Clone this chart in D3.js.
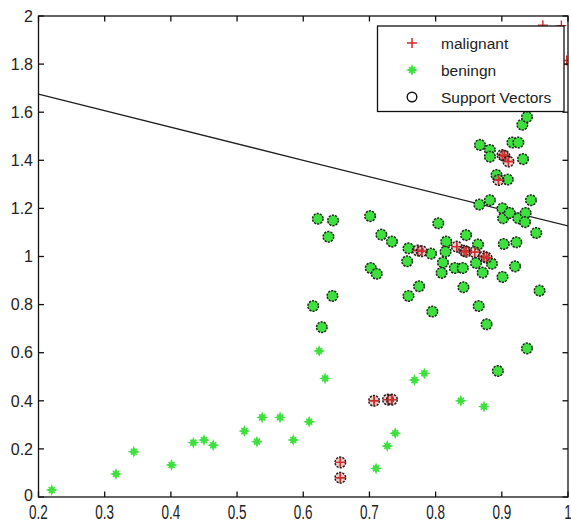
<!DOCTYPE html>
<html><head><meta charset="utf-8">
<script src="https://cdn.jsdelivr.net/npm/d3@7"></script>
<style>body{margin:0;background:#fff;}svg{display:block;}</style>
</head><body>
<svg id="chart" width="571" height="524"></svg>
<script>
// ---------- data ----------
const xTicks = [0.2,0.3,0.4,0.5,0.6,0.7,0.8,0.9,1.0];
const xTickLabels = ["0.2","0.3","0.4","0.5","0.6","0.7","0.8","0.9","1"];
const yTicks = [0,0.2,0.4,0.6,0.8,1.0,1.2,1.4,1.6,1.8,2.0];
const yTickLabels = ["0","0.2","0.4","0.6","0.8","1","1.2","1.4","1.6","1.8","2"];

// benign points (plain stars first, then support vectors)
const benignX = [0.220,0.317,0.344,0.401,0.434,0.450,0.464,0.511,0.530,0.538,0.565,0.585,0.609,0.624,0.633,0.710,0.727,0.739,0.768,0.783,0.838,0.873,
  0.622,0.645,0.638,0.615,0.644,0.628,0.701,0.718,0.734,0.759,0.757,0.793,0.804,0.816,0.815,0.811,0.809,0.702,0.711,
  0.759,0.775,0.795,0.829,0.841,0.842,0.846,0.864,0.861,0.885,0.871,0.865,0.877,
  0.866,0.882,0.901,0.902,0.912,0.925,0.936,0.935,0.944,0.952,0.922,0.903,0.920,0.901,0.957,
  0.892,0.909,0.867,0.882,0.882,0.932,0.916,0.925,0.931,0.938,0.894,0.938];
const benignY = [0.029,0.096,0.188,0.133,0.226,0.237,0.215,0.274,0.230,0.331,0.331,0.237,0.313,0.607,0.493,0.119,0.212,0.265,0.486,0.514,0.400,0.376,
  1.157,1.150,1.082,0.794,0.836,0.706,1.168,1.091,1.062,1.034,0.980,1.012,1.138,1.062,1.020,0.975,0.932,0.952,0.928,
  0.836,0.876,0.771,0.952,0.952,0.872,1.089,1.050,0.973,0.970,0.933,0.794,0.718,
  1.216,1.234,1.200,1.159,1.181,1.159,1.181,1.143,1.234,1.098,1.059,1.052,0.959,0.915,0.858,
  1.339,1.320,1.464,1.443,1.415,1.405,1.474,1.474,1.548,1.580,0.524,0.618];
const benignSV = benignX.map((d,i)=> i>=22 ? 1 : 0);

// malignant points
const malignantX = [0.962,0.990,0.998,0.993,
  0.656,0.656,0.707,0.728,0.734,0.773,0.779,0.832,0.843,0.846,0.859,0.873,0.877,0.901,0.904,0.910,0.895];
const malignantY = [1.962,1.960,1.815,1.800,
  0.144,0.080,0.400,0.405,0.405,1.025,1.022,1.041,1.024,1.020,1.018,1.000,0.995,1.422,1.418,1.395,1.318];
const malignantSV = malignantX.map((d,i)=> i>=4 ? 1 : 0);

// decision boundary
const lineX = [0.2, 0.6, 1.0];
const lineY = [1.675, 1.400, 1.127];

const legendLabels = ["malignant","beningn","Support Vectors"];

// ---------- layout ----------
const svg = d3.select("#chart");
const L = 38.5, R = 568, T = 16, B = 497;
const x = d3.scaleLinear().domain([0.2,1.0]).range([L,R]);
const y = d3.scaleLinear().domain([0,2]).range([B,T]);
const GREEN = "#3ee03e", RED = "#d42a2a";

svg.append("defs").append("clipPath").attr("id","clip")
  .append("rect").attr("x",L).attr("y",T).attr("width",R-L).attr("height",B-T);

const plot = svg.append("g").attr("clip-path","url(#clip)");

// decision line
plot.append("path")
  .datum(lineX.map((d,i)=>[d,lineY[i]]))
  .attr("fill","none").attr("stroke","#222").attr("stroke-width",1.3)
  .attr("d", d3.line().x(d=>x(d[0])).y(d=>y(d[1])));

function starPath(s){
  const a=s, b=s*0.28;
  return `M0,${-a}L${b},${-b}L${a},0L${b},${b}L0,${a}L${-b},${b}L${-a},0L${-b},${-b}Z`;
}
function plusPath(s){ return `M${-s},0H${s}M0,${-s}V${s}`; }

const benign = benignX.map((d,i)=>({x:d,y:benignY[i],sv:benignSV[i]}));
const malignant = malignantX.map((d,i)=>({x:d,y:malignantY[i],sv:malignantSV[i]}));

// benign stars
plot.selectAll(".bstar").data(benign.filter(d=>!d.sv)).enter().append("g")
  .attr("transform",d=>`translate(${x(d.x)},${y(d.y)})`)
  .each(function(){
    const g=d3.select(this);
    g.append("path").attr("d",starPath(6)).attr("fill",GREEN);
    g.append("path").attr("d","M-3,-3L3,3M3,-3L-3,3").attr("stroke",GREEN).attr("stroke-width",1.6);
  });

// malignant pluses
plot.selectAll(".mplus").data(malignant).enter().append("path")
  .attr("transform",d=>`translate(${x(d.x)},${y(d.y)})`)
  .attr("d",plusPath(5)).attr("stroke",RED).attr("stroke-width",1.4).attr("fill","none");

// benign support vectors
plot.selectAll(".bsv").data(benign.filter(d=>d.sv)).enter().append("circle")
  .attr("cx",d=>x(d.x)).attr("cy",d=>y(d.y)).attr("r",5.3)
  .attr("fill",GREEN).attr("stroke","#1c2a1c").attr("stroke-width",1.5)
  .attr("stroke-dasharray","2.2,1.1");

// malignant support vectors
const msv = plot.selectAll(".msv").data(malignant.filter(d=>d.sv)).enter().append("g")
  .attr("transform",d=>`translate(${x(d.x)},${y(d.y)})`);
msv.append("circle").attr("r",5.3).attr("fill","rgba(200,90,90,0.3)")
  .attr("stroke","#2a1a1a").attr("stroke-width",1.5).attr("stroke-dasharray","2.2,1.1");
msv.append("path").attr("d",plusPath(4)).attr("stroke",RED).attr("stroke-width",1.4);

// ---------- axes (box with inward ticks) ----------
const ax = svg.append("g").attr("stroke","#111").attr("stroke-width",1.3);
ax.append("rect").attr("x",L).attr("y",T).attr("width",R-L).attr("height",B-T).attr("fill","none");
const TL = 5.5;
xTicks.forEach(v=>{
  ax.append("line").attr("x1",x(v)).attr("x2",x(v)).attr("y1",B).attr("y2",B-TL);
  ax.append("line").attr("x1",x(v)).attr("x2",x(v)).attr("y1",T).attr("y2",T+TL);
});
yTicks.forEach(v=>{
  ax.append("line").attr("y1",y(v)).attr("y2",y(v)).attr("x1",L).attr("x2",L+TL);
  ax.append("line").attr("y1",y(v)).attr("y2",y(v)).attr("x1",R).attr("x2",R-TL);
});

const font = "Liberation Sans, Arial, sans-serif";
svg.append("g").selectAll("text").data(xTicks).enter().append("text")
  .attr("transform",d=>`translate(${x(d)},519) scale(0.9,1.4)`)
  .attr("text-anchor","middle").attr("font-family",font).attr("font-size",15)
  .attr("fill","#222").text((d,i)=>xTickLabels[i]);
svg.append("g").selectAll("text").data(yTicks).enter().append("text")
  .attr("x",33).attr("y",d=>y(d) - (d===0 ? 2 : 0)).attr("dy","0.36em")
  .attr("text-anchor","end").attr("font-family",font).attr("font-size",16)
  .attr("fill","#222").text((d,i)=>yTickLabels[i]);

// ---------- legend ----------
const lg = svg.append("g");
lg.append("rect").attr("x",377.5).attr("y",26).attr("width",186.5).attr("height",85.5)
  .attr("fill","#fff").attr("stroke","#111").attr("stroke-width",1.3);
const rowsY = [43,70,97];
lg.append("path").attr("transform",`translate(412,${rowsY[0]})`).attr("d",plusPath(5))
  .attr("stroke",RED).attr("stroke-width",1.5);
const ls = lg.append("g").attr("transform",`translate(412,${rowsY[1]})`);
ls.append("path").attr("d",starPath(6)).attr("fill",GREEN);
ls.append("path").attr("d","M-3,-3L3,3M3,-3L-3,3").attr("stroke",GREEN).attr("stroke-width",1.6);
lg.append("circle").attr("cx",412).attr("cy",rowsY[2]).attr("r",4.8)
  .attr("fill","none").attr("stroke","#111").attr("stroke-width",1.4);
lg.selectAll("text").data(legendLabels).enter().append("text")
  .attr("x",441).attr("y",(d,i)=>rowsY[i]).attr("dy","0.36em")
  .attr("font-family",font).attr("font-size",15.5).attr("fill","#222").text(d=>d);
</script>
</body></html>
